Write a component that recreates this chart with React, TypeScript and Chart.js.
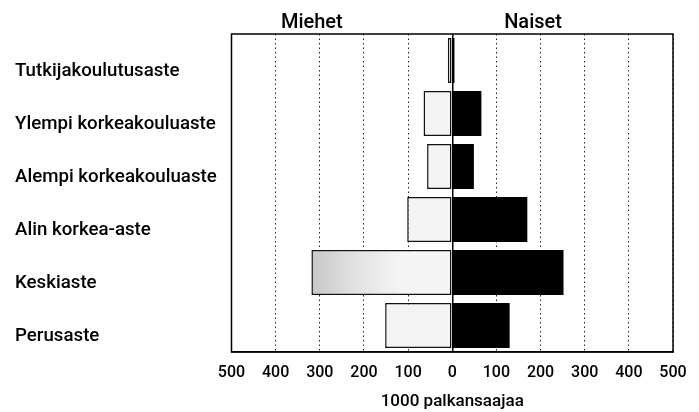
import React, { useEffect, useRef } from "react";
import { Chart, registerables } from "chart.js";

Chart.register(...registerables);

const categories = [
  "Tutkijakoulutusaste",
  "Ylempi korkeakouluaste",
  "Alempi korkeakouluaste",
  "Alin korkea-aste",
  "Keskiaste",
  "Perusaste",
];
const menValues = [10, 65, 57, 102, 319, 152];
const womenValues = [5, 66, 49, 170, 252, 130];
const seriesNames = ["Miehet", "Naiset"];
const xTicks = [-500, -400, -300, -200, -100, 0, 100, 200, 300, 400, 500];
const axisTitle = "1000 palkansaajaa";

const FONT = "Roboto, 'Liberation Sans', Arial, sans-serif";

const framePlugin = {
  id: "frame",
  afterDraw(chart: any) {
    const { ctx, chartArea } = chart;
    ctx.save();
    ctx.strokeStyle = "#000";
    ctx.lineWidth = 1.5;
    ctx.strokeRect(chartArea.left, chartArea.top, chartArea.right - chartArea.left, chartArea.bottom - chartArea.top);
    // side headers
    const xs = chart.scales.x;
    ctx.fillStyle = "#000";
    ctx.font = `500 20px ${FONT}`;
    ctx.textAlign = "center";
    ctx.textBaseline = "middle";
    ctx.fillText(seriesNames[0], xs.getPixelForValue(-318), 23);
    ctx.fillText(seriesNames[1], xs.getPixelForValue(183), 23);
    ctx.restore();
  },
};

export default function App() {
  const ref = useRef<HTMLCanvasElement>(null);
  useEffect(() => {
    const canvas = ref.current!;
    const chart = new Chart(canvas, {
      type: "bar",
      data: {
        labels: categories,
        datasets: [
          {
            label: seriesNames[0],
            data: menValues.map((v) => -v),
            backgroundColor: (c: any) => {
              const chartObj = c.chart;
              if (c.dataIndex === 4 && chartObj.chartArea) {
                const xs = chartObj.scales.x;
                const g = chartObj.ctx.createLinearGradient(xs.getPixelForValue(-330), 0, xs.getPixelForValue(-120), 0);
                g.addColorStop(0, "#c4c4c4");
                g.addColorStop(0.45, "#dedede");
                g.addColorStop(1, "#f4f4f4");
                return g;
              }
              return "#f3f3f3";
            },
            borderColor: "#111",
            borderWidth: 1.5,
            borderSkipped: false,
          },
          {
            label: seriesNames[1],
            data: womenValues,
            backgroundColor: "#000",
            borderColor: "#000",
            borderWidth: 0,
          },
        ],
      },
      options: {
        indexAxis: "y",
        animation: false,
        responsive: false,
        maintainAspectRatio: false,
        layout: { padding: { left: 15, right: 26, top: 34, bottom: 0 } },
        plugins: { legend: { display: false }, tooltip: { enabled: false } },
        datasets: { bar: { categoryPercentage: 0.85, barPercentage: 1 } },
        scales: {
          x: {
            type: "linear",
            stacked: true,
            min: -500,
            max: 500,
            afterBuildTicks: (s: any) => {
              s.ticks = xTicks.map((v) => ({ value: v }));
            },
            afterFit: (s: any) => {
              s.height = 60;
            },
            ticks: {
              color: "#000",
              font: { family: FONT, size: 16, weight: "500" },
              padding: 11,
              callback: (v: any) => String(Math.abs(Number(v))),
            },
            grid: {
              drawTicks: false,
              color: (c: any) => (c.tick && c.tick.value === 0 ? "#000" : "#222"),
              lineWidth: (c: any) => (c.tick && c.tick.value === 0 ? 1.5 : 1),
            },
            border: {
              display: true,
              color: "#000",
              width: 1.5,
              dash: (c: any) => (c.tick && c.tick.value === 0 ? [] : [1.5, 3]),
            },
            title: {
              display: true,
              text: axisTitle,
              color: "#000",
              font: { family: FONT, size: 17, weight: "500" },
              padding: { top: 8, bottom: 0 },
            },
          },
          y: {
            stacked: true,
            afterFit: (s: any) => {
              s.width = 216.5;
            },
            grid: { display: false },
            border: { display: false },
            ticks: {
              crossAlign: "far",
              color: "#000",
              labelOffset: 11,
              font: { family: FONT, size: 18.7, weight: "500" },
            },
          },
        },
      },
      plugins: [framePlugin],
    } as any);
    return () => chart.destroy();
  }, []);
  return (
    <div style={{ position: "absolute", left: 0, top: 0, width: 699, height: 412, background: "#fff" }}>
      <canvas ref={ref} width={699} height={412} style={{ display: "block", width: 699, height: 412 }} />
    </div>
  );
}
